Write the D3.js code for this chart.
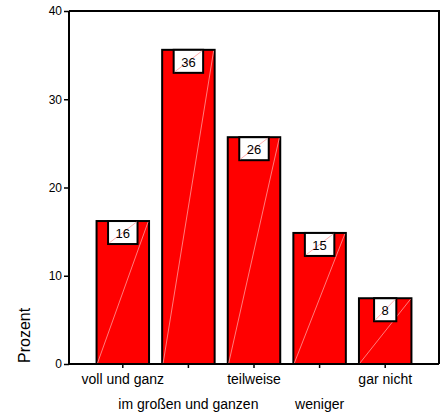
<!DOCTYPE html>
<html><head><meta charset="utf-8">
<script src="https://cdn.jsdelivr.net/npm/d3@7"></script>
<style>
html,body{margin:0;padding:0;background:#fff;}
svg{display:block;font-family:"Liberation Sans",Arial,sans-serif;}
</style></head>
<body><svg id="c" width="440" height="414"></svg>
<script>
const categories = ["voll und ganz","im großen und ganzen","teilweise","weniger","gar nicht"];
const values = [16.2, 35.6, 25.7, 14.85, 7.45];
const valueLabels = ["16","36","26","15","8"];
const yTicks = [0,10,20,30,40];
const yTitle = "Prozent";

(function(){
const svg = d3.select("#c");
const pL = 69, pR = 439, pT = 11, pB = 364;

const y = d3.scaleLinear().domain([0,40]).range([pB, pT]);
const x = d3.scaleBand().domain(categories).range([90, 418]).paddingInner(0.2).paddingOuter(0.1);

// frame top & right
svg.append("path")
  .attr("d", `M${pL},${y(40)}H${pR}V${y(0)}`)
  .attr("fill","none").attr("stroke","#000").attr("stroke-width",2);

// bars
const g = svg.append("g");
categories.forEach((c,i)=>{
  const x0 = x(c), w = x.bandwidth(), yt = y(values[i]), yb = y(0);
  g.append("rect").attr("x",x0).attr("y",yt).attr("width",w).attr("height",yb-yt)
    .attr("fill","#ff0000").attr("stroke","#000").attr("stroke-width",2);
  g.append("line").attr("x1",x0+1).attr("y1",yb-1).attr("x2",x0+w-1).attr("y2",yt+1)
    .attr("stroke","#ff9a9a").attr("stroke-width",0.8);
});

// y axis
const ya = svg.append("g").attr("transform",`translate(${pL},0)`)
  .call(d3.axisLeft(y).tickValues(yTicks).tickSize(5).tickPadding(2).tickFormat(d3.format("d")));
ya.select(".domain").attr("stroke","#000").attr("stroke-width",2).attr("d",`M0,${y(40)}V${y(0)}`);
ya.selectAll(".tick line").attr("stroke","#000").attr("stroke-width",1.5);
ya.selectAll(".tick text").attr("font-size",12).attr("fill","#000")
  .attr("font-family","'Liberation Sans',Arial,sans-serif");

// x axis
const xa = svg.append("g").attr("transform",`translate(0,${pB})`)
  .call(d3.axisBottom(x).tickSize(4).tickPadding(0));
xa.select(".domain").attr("stroke","#000").attr("stroke-width",2).attr("d",`M${pL},0H${pR}`);
xa.selectAll(".tick line").attr("stroke","#000").attr("stroke-width",1.5);
xa.selectAll(".tick text").attr("font-size",14).attr("fill","#000")
  .attr("font-family","'Liberation Sans',Arial,sans-serif")
  .attr("dy",null)
  .attr("y",(d,i)=> i%2===0 ? 19.5 : 45);

// value labels
categories.forEach((c,i)=>{
  const cx = x(c)+x.bandwidth()/2, yt = y(values[i]);
  const t = svg.append("text").attr("x",cx).attr("y",yt+17).attr("text-anchor","middle")
    .attr("font-size",13).attr("fill","#000").text(valueLabels[i]);
  const tw = t.node().getComputedTextLength();
  const bw = tw+15, bh = 23;
  svg.insert("rect", () => t.node()).attr("x",cx-bw/2).attr("y",yt).attr("width",bw).attr("height",bh)
    .attr("fill","#fff").attr("stroke","#000").attr("stroke-width",2);
  svg.insert("line", () => t.node()).attr("x1",cx-bw/2+1).attr("y1",yt+bh-1).attr("x2",cx+bw/2-1).attr("y2",yt+1)
    .attr("stroke","#ff9a9a").attr("stroke-width",0.8);
});

// y title
svg.append("text").attr("transform",`translate(30,${y(0)-1}) rotate(-90)`)
  .attr("text-anchor","start").attr("font-size",16).attr("fill","#000").text(yTitle);
})();
</script></body></html>
